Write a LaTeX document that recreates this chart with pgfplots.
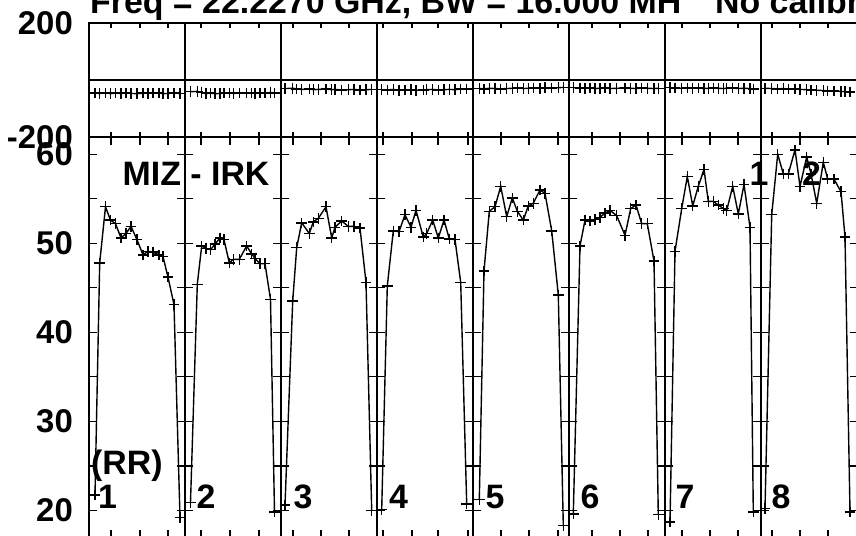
\documentclass[border=0pt]{standalone}
\usepackage{pgfplots}
\usepackage{pgfplotstable}
\pgfplotsset{compat=1.18}
\usepackage{fontspec}
\setmainfont{Liberation Sans}

\pgfplotstableread{
x y
6 21.7
10.7 47.8
16.5 54.1
21.5 52.6
26.5 52.2
32 50.6
37 51.1
42 51.9
48 50.4
54 48.7
59 49.1
64 49.0
70 48.7
74 48.5
79 46.2
85 43.1
91 19.2
nan nan
101.5 20.9
108.3 45.4
112.7 49.7
117 49.4
121.7 49.3
126 49.9
131 50.6
135 50.4
140.3 47.8
144.3 48.2
150.3 48.2
157.7 49.7
162.7 48.8
166 48.3
171 47.7
176 47.7
181.5 43.7
185.5 19.8
nan nan
196 20.6
203.7 43.5
207.7 49.5
212.7 52.3
220.3 51.1
224.3 52.4
229.3 52.8
237 54.1
242.7 50.6
246 51.8
252.7 52.5
259.3 51.9
265 51.9
271 51.7
277 45.6
282.7 20.0
nan nan
292.7 20.1
298.3 45.2
304.3 51.4
310 51.3
316 53.2
322 51.8
327 53.7
334.3 50.7
337.7 51.1
343.7 52.6
349.3 50.6
355 52.6
360.3 50.5
366 50.4
371.7 45.6
377.7 20.7
nan nan
390.3 21.2
395 46.9
400.3 53.6
406 54.1
411.7 56.4
417.7 53.0
423.3 55.1
428.3 53.6
434.3 52.6
439.3 54.2
444.3 54.5
451 56.0
456 55.6
462.7 51.4
469.3 44.2
474.3 18.3
nan nan
484.3 19.6
491 49.7
496 52.6
501 52.5
506 52.7
511 52.9
516 53.4
521 53.7
527.7 53.1
536 50.9
541.7 53.9
547 54.3
552.7 52.2
558.3 52.2
565 48.0
569.3 19.5
nan nan
581 18.7
586 49.1
592.7 53.9
598.3 57.5
603.7 54.2
609.3 56.4
615 58.3
619.3 54.7
624.3 54.7
629.3 54.3
634.3 53.9
637.7 53.7
643.7 56.4
649.3 53.3
655 56.6
661 51.8
664.3 19.8
nan nan
676 20.2
682.7 53.2
688.7 60.0
694.3 57.8
699.3 57.8
706 60.5
711 56.4
717.7 59.7
722 57.8
727.7 54.5
734.3 59.1
738.7 57.2
745 57.2
752 55.8
756 50.7
761 19.8
}\botdata

\pgfplotstableread{
x y
6 -46
10.7 -47
16.5 -45
21.5 -48
26.5 -46
32 -47
37 -45
42 -47
48 -48
54 -46
59 -47
64 -45
70 -46
74 -48
79 -47
85 -46
91 -47
nan nan
101.5 -41
108.3 -40
112.7 -44
117 -47
121.7 -46
126 -48
131 -47
135 -46
140.3 -45
144.3 -47
150.3 -46
157.7 -45
162.7 -46
166 -47
171 -45
176 -46
181.5 -44
185.5 -45
nan nan
196 -30
203.7 -29
207.7 -31
212.7 -33
220.3 -32
224.3 -34
229.3 -33
237 -32
242.7 -34
246 -33
252.7 -35
259.3 -34
265 -33
271 -35
277 -34
282.7 -33
nan nan
292.7 -34
298.3 -35
304.3 -33
310 -36
316 -35
322 -34
327 -36
334.3 -35
337.7 -34
343.7 -33
349.3 -35
355 -34
360.3 -33
366 -34
371.7 -32
377.7 -31
nan nan
390.3 -30
395 -31
400.3 -29
406 -30
411.7 -31
417.7 -30
423.3 -29
428.3 -28
434.3 -30
439.3 -29
444.3 -28
451 -29
456 -27
462.7 -28
469.3 -27
474.3 -26
nan nan
484.3 -27
491 -28
496 -29
501 -28
506 -30
511 -29
516 -28
521 -30
527.7 -29
536 -28
541.7 -29
547 -30
552.7 -28
558.3 -29
565 -30
569.3 -29
nan nan
581 -27
586 -28
592.7 -29
598.3 -28
603.7 -29
609.3 -28
615 -30
619.3 -29
624.3 -28
629.3 -29
634.3 -30
637.7 -29
643.7 -28
649.3 -30
655 -29
661 -30
664.3 -31
nan nan
676 -29
682.7 -30
688.7 -31
694.3 -30
699.3 -32
706 -31
711 -33
717.7 -34
722 -35
727.7 -36
734.3 -37
738.7 -38
745 -39
752 -40
756 -41
761 -42
}\topdata

\newcommand{\bigfont}{\bfseries\fontsize{33}{33}\selectfont}
\newcommand{\lblfont}{\bfseries\fontsize{34}{34}\selectfont}

\pgfplotsset{
  panel/.style={
    scale only axis, width=768bp, xmin=0, xmax=768,
    axis line style={line width=1.5bp},
    tick align=inside,
    xtick pos=both, ytick pos=both,
    xtick={22,51,79,112,141,170,204,232,260,294,323,349,379,412,440,469,503,531,559,593,621,649,683,711,739},
    xticklabels={},
    every tick/.style={black, line width=1.4bp},
    extra x ticks={96,192,288,384,480,576,672},
    extra x tick labels={},
    extra x tick style={grid=major, major grid style={black, line width=1.5bp}},
    yticklabel style={font=\bigfont, anchor=east, inner sep=0pt, xshift=-16bp},
    unbounded coords=jump,
    clip=true,
  },
  dat/.style={black, line width=1.4bp, mark=+, mark size=5.3bp, mark options={line width=1.4bp}},
}

\begin{document}
\begin{tikzpicture}
\useasboundingbox (0,0) rectangle (856bp,-536bp);
\clip (0,0) rectangle (856bp,-536bp);

% top panel
\begin{axis}[panel, at={(89bp,-23bp)}, anchor=north west, height=114bp,
  ymin=-200, ymax=200, ytick={-200,200}, yticklabels={-200,200},
  major tick length=5bp,
  extra y ticks={0}, extra y tick labels={},
  extra y tick style={grid=major, major grid style={black, line width=1.5bp}},
]
\addplot[dat] table[x=x, y=y] {\topdata};
\end{axis}

% bottom panel
\begin{axis}[panel, at={(89bp,-137bp)}, anchor=north west, height=400bp,
  ymin=17.0, ymax=61.94,
  ytick={20,30,40,50,60}, yticklabels={20,30,40,50,60},
  minor ytick={25,35,45,55},
  major tick length=7.5bp, minor tick length=7.5bp,
]
\addplot[only marks, mark=-, mark size=8.3bp, mark options={line width=1.4bp, black}] coordinates {
(96,20)(96,25)(96,30)(96,35)(96,40)(96,45)(96,50)(96,55)(96,60)
(192,20)(192,25)(192,30)(192,35)(192,40)(192,45)(192,50)(192,55)(192,60)
(288,20)(288,25)(288,30)(288,35)(288,40)(288,45)(288,50)(288,55)(288,60)
(384,20)(384,25)(384,30)(384,35)(384,40)(384,45)(384,50)(384,55)(384,60)
(480,20)(480,25)(480,30)(480,35)(480,40)(480,45)(480,50)(480,55)(480,60)
(576,20)(576,25)(576,30)(576,35)(576,40)(576,45)(576,50)(576,55)(576,60)
(672,20)(672,25)(672,30)(672,35)(672,40)(672,45)(672,50)(672,55)(672,60)
};
\addplot[dat] table[x=x, y=y] {\botdata};
\end{axis}

% texts
\node[anchor=base west, inner sep=0pt, font=\bfseries\fontsize{34}{34}\selectfont] at (90bp,-13bp) {Freq = 22.2270 GHz, BW = 16.000 MH};
\node[anchor=base west, inner sep=0pt, font=\bfseries\fontsize{34}{34}\selectfont] at (715bp,-13bp) {No calibration};
\node[anchor=base west, inner sep=0pt, font=\lblfont] at (122.5bp,-185bp) {MIZ - IRK};
\node[anchor=base west, inner sep=0pt, font=\lblfont] at (91bp,-474bp) {(RR)};
\node[anchor=base west, inner sep=0pt, font=\lblfont] at (98bp,-508bp) {1};
\node[anchor=base west, inner sep=0pt, font=\lblfont] at (196.5bp,-508bp) {2};
\node[anchor=base west, inner sep=0pt, font=\lblfont] at (293.5bp,-508bp) {3};
\node[anchor=base west, inner sep=0pt, font=\lblfont] at (389bp,-508bp) {4};
\node[anchor=base west, inner sep=0pt, font=\lblfont] at (485.5bp,-508bp) {5};
\node[anchor=base west, inner sep=0pt, font=\lblfont] at (580.5bp,-508bp) {6};
\node[anchor=base west, inner sep=0pt, font=\lblfont] at (675.5bp,-508bp) {7};
\node[anchor=base west, inner sep=0pt, font=\lblfont] at (771.5bp,-508bp) {8};
\node[anchor=base west, inner sep=0pt, font=\lblfont] at (749.5bp,-185bp) {1};
\node[anchor=base west, inner sep=0pt, font=\lblfont] at (802bp,-185bp) {2};
\end{tikzpicture}
\end{document}
